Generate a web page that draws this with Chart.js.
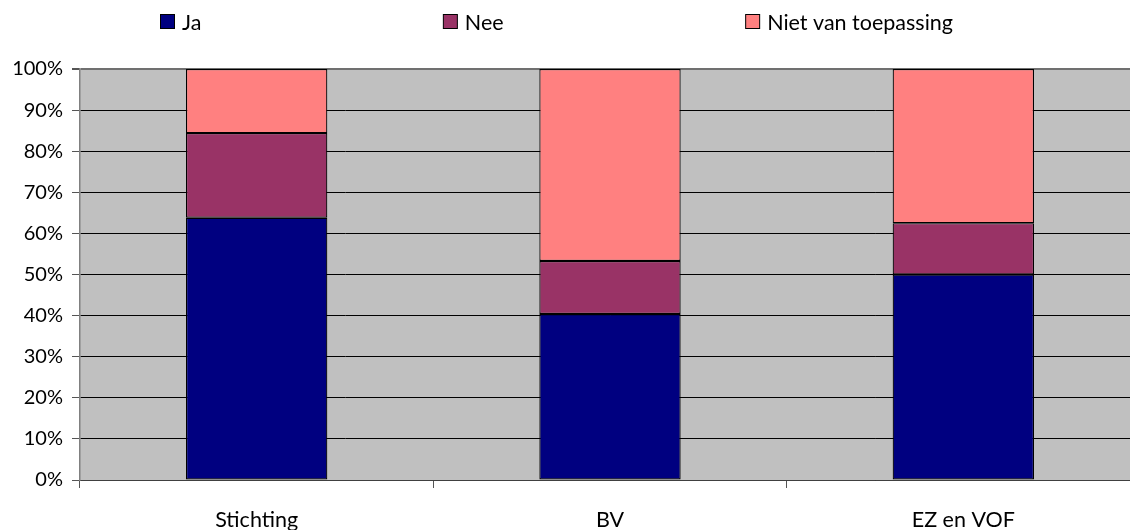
<!DOCTYPE html>
<html>
<head>
<meta charset="utf-8">
<script src="https://cdn.jsdelivr.net/npm/chart.js@4/dist/chart.umd.min.js"></script>
<style>
  html, body { margin: 0; padding: 0; background: #ffffff; overflow: hidden; }
  #wrap { position: relative; width: 1145px; height: 530px; }
</style>
</head>
<body>
<div id="wrap"><canvas id="chart"></canvas></div>
<script>
// Rechtsvorm van de organisatie
const categories = ['Stichting', 'BV', 'EZ en VOF'];

// Aandeel per antwoord (procent, per categorie opgeteld 100)
const ja = [63.8, 40.4, 50.0];
const nee = [20.6, 12.9, 12.5];
const nietVanToepassing = [15.6, 46.7, 37.5];

const seriesLabels = ['Ja', 'Nee', 'Niet van toepassing'];
const seriesColors = ['#000080', '#993366', '#FF8080'];

const FONT = 'Lato, "DejaVu Sans", sans-serif';

// grey plot background
const plotBackground = {
  id: 'plotBackground',
  beforeDraw(chart) {
    const { ctx, chartArea: a } = chart;
    ctx.save();
    ctx.fillStyle = '#C0C0C0';
    ctx.fillRect(a.left, a.top, a.right - a.left, a.bottom - a.top);
    ctx.restore();
  }
};

// legend row spread evenly across the top
const spreadLegend = {
  id: 'spreadLegend',
  afterDraw(chart, args, opts) {
    const { ctx } = chart;
    const ds = chart.data.datasets;
    ctx.save();
    ctx.font = opts.fontSize + 'px ' + FONT;
    ctx.textBaseline = 'alphabetic';
    const box = 14, gapText = 8;
    const widths = ds.map(d => box + gapText + ctx.measureText(d.label).width);
    const total = widths.reduce((s, w) => s + w, 0);
    const gap = (opts.right - opts.left - total) / (ds.length - 1);
    let x = opts.left;
    ds.forEach((d, i) => {
      ctx.fillStyle = d.backgroundColor;
      ctx.fillRect(x + 0.5, opts.boxTop + 0.5, box, box);
      ctx.strokeStyle = '#000000';
      ctx.lineWidth = 1;
      ctx.strokeRect(x + 0.5, opts.boxTop + 0.5, box, box);
      ctx.fillStyle = '#000000';
      ctx.fillText(d.label, x + box + gapText, opts.baseline);
      x += widths[i] + gap;
    });
    ctx.restore();
  }
};

const datasets = [ja, nee, nietVanToepassing].map((values, i) => ({
  label: seriesLabels[i],
  data: values,
  backgroundColor: seriesColors[i],
  borderColor: '#000000',
  borderWidth: 1.2,
  borderSkipped: false,
  categoryPercentage: 1.0,
  barPercentage: 0.4
}));

new Chart(document.getElementById('chart'), {
  type: 'bar',
  data: { labels: categories, datasets },
  plugins: [plotBackground, spreadLegend],
  options: {
    responsive: true,
    maintainAspectRatio: false,
    animation: false,
    layout: { padding: { top: 69, right: 5, bottom: 0, left: 0 } },
    plugins: {
      legend: { display: false },
      tooltip: { enabled: false },
      spreadLegend: { left: 160, right: 953, boxTop: 14, baseline: 30, fontSize: 21.5 }
    },
    scales: {
      x: {
        stacked: true,
        grid: {
          offset: true,
          drawOnChartArea: false,
          drawTicks: true,
          tickLength: 8,
          tickColor: '#555555'
        },
        border: { display: true, color: '#404040', width: 1 },
        ticks: {
          color: '#000000',
          font: { family: FONT, size: 21.5 },
          padding: 19
        },
        afterFit(scale) { scale.height = 50; }
      },
      y: {
        stacked: true,
        min: 0,
        max: 100,
        grid: {
          color: ctx => (ctx.tick && ctx.tick.value === 100) ? '#707070' : '#000000',
          lineWidth: ctx => (ctx.tick && ctx.tick.value === 100) ? 2 : 1,
          drawTicks: true,
          tickLength: 8,
          tickColor: '#555555'
        },
        border: { display: true, color: '#808080', width: 1.5 },
        ticks: {
          stepSize: 10,
          color: '#000000',
          font: { family: FONT, size: 20 },
          padding: 9,
          callback: v => v + '%'
        },
        afterFit(scale) { scale.width = 80; }
      }
    }
  }
});
</script>
</body>
</html>
